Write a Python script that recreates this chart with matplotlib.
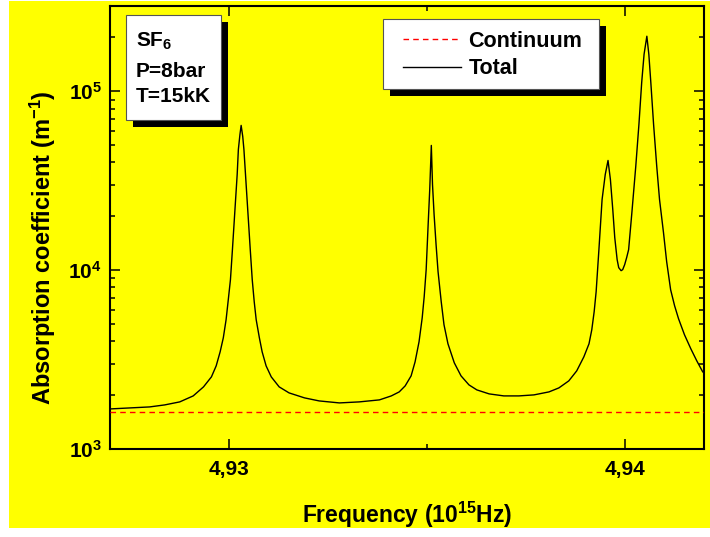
import matplotlib
matplotlib.use('Agg')
import matplotlib.pyplot as plt
from matplotlib import patheffects as pe
from matplotlib.patches import Rectangle
from matplotlib.ticker import FixedLocator, FixedFormatter, LogLocator, NullFormatter

# ---- data ----
freq = [4.92700, 4.92750, 4.92800, 4.92838, 4.92876, 4.92910, 4.92936, 4.92956,
        4.92968, 4.92978, 4.92986, 4.92993, 4.92998, 4.93004, 4.93009, 4.93013,
        4.93017, 4.93021, 4.93024, 4.93028, 4.93031, 4.93035, 4.93038, 4.93042,
        4.93046, 4.93050, 4.93054, 4.93059, 4.93064, 4.93069, 4.93077, 4.93084,
        4.93094, 4.93107, 4.93127, 4.93152, 4.93191, 4.93228, 4.93279, 4.93329,
        4.93380, 4.93410, 4.93430, 4.93445, 4.93460, 4.93470, 4.93480, 4.93488,
        4.93493, 4.93498, 4.93503, 4.93507, 4.93511, 4.93514, 4.93518, 4.93523,
        4.93528, 4.93536, 4.93543, 4.93553, 4.93569, 4.93586, 4.93606, 4.93626,
        4.93657, 4.93694, 4.93732, 4.93770, 4.93808, 4.93833, 4.93858, 4.93878,
        4.93896, 4.93909, 4.93916, 4.93922, 4.93927, 4.93934, 4.93942, 4.93950,
        4.93957, 4.93963, 4.93969, 4.93974, 4.93980, 4.93984, 4.93990, 4.93994,
        4.93999, 4.94004, 4.94009, 4.94017, 4.94027, 4.94035, 4.94042, 4.94048,
        4.94055, 4.94060, 4.94065, 4.94072, 4.94080, 4.94087, 4.94097, 4.94105,
        4.94115, 4.94125, 4.94135, 4.94150, 4.94166, 4.94181, 4.94196]
total = [1675, 1697, 1719, 1764, 1834, 1981, 2225, 2531,
         2917, 3495, 4187, 5281, 6662, 8845, 13025, 17987,
         24831, 34277, 47318, 57438, 64491, 55974, 47318, 34277,
         24831, 17987, 13025, 8845, 6662, 5281, 4187, 3495,
         2917, 2531, 2225, 2059, 1931, 1857, 1810, 1834,
         1882, 1981, 2086, 2254, 2564, 3071, 3976, 5419,
         7106, 10065, 17987, 28250, 49830, 30130, 20460, 13892,
         9808, 6662, 4951, 3875, 3032, 2564, 2283, 2140,
         2033, 1981, 1981, 2007, 2086, 2196, 2404, 2735,
         3276, 3875, 4642, 5854, 7577, 13025, 24831, 34277,
         41059, 32137, 21826, 15212, 11453, 10328, 9936, 10065,
         10735, 11750, 13025, 20730, 37993, 65330, 112300, 161200,
         203300, 161200, 112300, 65330, 37993, 24831, 16219, 11159,
         7776, 6327, 5350, 4352, 3634, 3112, 2700]
cont_freq = [4.92700, 4.94200]
continuum = [1610, 1610]

series_labels = ['Continuum', 'Total']
xticks = [4.93, 4.94]
xtick_labels = ['4,93', '4,94']
xminor = [4.935]
yticks = [1e3, 1e4, 1e5]
ytick_labels = [r'$10^{3}$', r'$10^{4}$', r'$10^{5}$']
box_lines = [r'SF$_{6}$', 'P=8bar', 'T=15kK']

# ---- style ----
plt.rcParams['font.family'] = ['Liberation Sans', 'DejaVu Sans']
plt.rcParams['font.weight'] = 'bold'
plt.rcParams['axes.labelweight'] = 'bold'
plt.rcParams['mathtext.fontset'] = 'custom'
plt.rcParams['mathtext.rm'] = 'Liberation Sans:bold'
plt.rcParams['mathtext.it'] = 'Liberation Sans:bold'
plt.rcParams['mathtext.bf'] = 'Liberation Sans:bold'
plt.rcParams['mathtext.sf'] = 'Liberation Sans:bold'
plt.rcParams['mathtext.default'] = 'bf'

YEL = '#ffff00'
fig = plt.figure(figsize=(7.10, 5.37), dpi=100, facecolor='white')
fig.patches.append(Rectangle((9 / 710, 9 / 537), 1 - 9 / 710, 1 - 10 / 537,
                             transform=fig.transFigure, facecolor=YEL,
                             edgecolor='none', zorder=-10))

ax = fig.add_axes([110 / 710, 1 - 449 / 537, 594.3 / 710, 443 / 537])
ax.set_facecolor(YEL)

ax.plot(cont_freq, continuum, color='red', lw=1.0, ls=(0, (4, 3)),
        label=series_labels[0], zorder=3)
ax.plot(freq, total, color='black', lw=1.0, label=series_labels[1], zorder=4)

ax.set_yscale('log')
ax.set_xlim(4.927, 4.942)
ax.set_ylim(1e3, 3e5)

ax.xaxis.set_major_locator(FixedLocator(xticks))
ax.xaxis.set_major_formatter(FixedFormatter(xtick_labels))
ax.xaxis.set_minor_locator(FixedLocator(xminor))
ax.yaxis.set_major_locator(FixedLocator(yticks))
ax.yaxis.set_major_formatter(FixedFormatter(ytick_labels))
ax.yaxis.set_minor_locator(LogLocator(base=10, subs=range(2, 10)))
ax.yaxis.set_minor_formatter(NullFormatter())

for s in ax.spines.values():
    s.set_linewidth(1.5)
ax.tick_params(which='both', direction='in', top=True, right=True, width=1.1)
ax.tick_params(which='major', length=7)
ax.tick_params(which='minor', length=3.8)
ax.tick_params(axis='x', which='major', labelsize=15, pad=8)
ax.tick_params(axis='y', which='major', labelsize=15, pad=6)

ax.set_xlabel('Frequency (10$^{15}$Hz)', fontsize=16.5, fontweight='bold', va='center')
ax.xaxis.set_label_coords(0.5, -0.149)
ax.set_ylabel('Absorption coefficient (m$^{-1}$)', fontsize=17, fontweight='bold',
              va='center')
ax.yaxis.set_label_coords(-0.113, 0.454)

shadow = [pe.SimplePatchShadow(offset=(5, -5), shadow_rgbFace='black', alpha=1.0),
          pe.Normal()]

# info box
rect = Rectangle((0.0269, 0.7427), 0.160, 0.237, transform=ax.transAxes,
                 facecolor='white', edgecolor='#555555', lw=0.8, zorder=6)
rect.set_path_effects(shadow)
ax.add_patch(rect)
for txt, yb in zip(box_lines, [0.9074, 0.8397, 0.7833]):
    ax.text(0.0437, yb, txt, transform=ax.transAxes, fontsize=15,
            va='baseline', ha='left', zorder=7)

# legend frame (drawn separately for exact size) + legend entries
lrect = Rectangle((0.4589, 0.8126), 0.364, 0.158, transform=ax.transAxes,
                  facecolor='white', edgecolor='#555555', lw=0.8, zorder=7)
lrect.set_path_effects(shadow)
ax.add_patch(lrect)
leg = ax.legend(loc='upper left', bbox_to_anchor=(0.4728, 0.9707),
                fontsize=15.5, frameon=False, borderpad=0.55, labelspacing=0.3,
                handlelength=2.7, handletextpad=0.35, borderaxespad=0)
leg.set_zorder(8)

fig.savefig('out.png', dpi=100, facecolor=fig.get_facecolor())
